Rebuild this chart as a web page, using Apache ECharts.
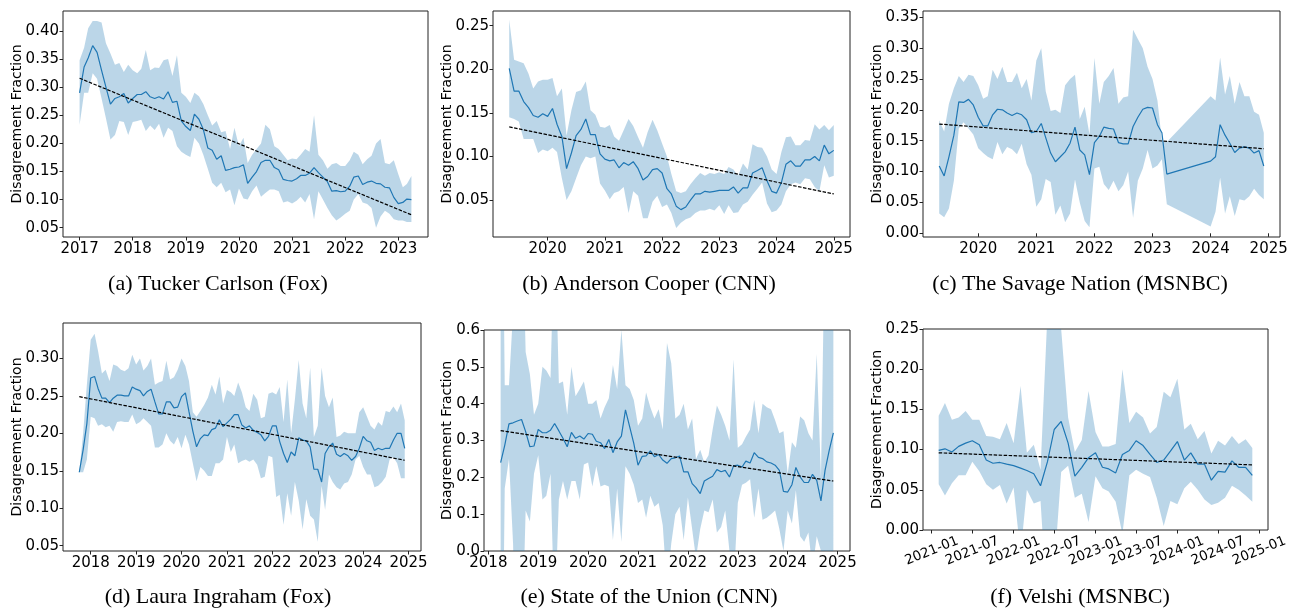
<!DOCTYPE html>
<html>
<head>
<meta charset="utf-8">
<script src="https://cdn.jsdelivr.net/npm/echarts@6/dist/echarts.min.js"></script>
<style>
  html, body { margin: 0; padding: 0; background: #ffffff; }
  #chart { width: 1296px; height: 612px; }
</style>
</head>
<body>
<div id="chart"></div>
<script>
// ---------------------------------------------------------------------------
// Monthly disagreement fraction per show: mean, band bounds, linear trend ends
// ---------------------------------------------------------------------------

// (a) Tucker Carlson (Fox), months Dec 2016 .. Mar 2023
const tuckerStart = '2016-12';
const tuckerMean = [
  0.290,0.336,0.352,0.374,0.362,0.330,0.300,0.270,0.280,0.283,0.289,0.272,
  0.280,0.287,0.287,0.292,0.283,0.280,0.283,0.279,0.292,0.273,0.275,0.240,
  0.230,0.223,0.252,0.243,0.225,0.192,0.188,0.172,0.178,0.152,0.154,0.157,
  0.158,0.162,0.129,0.140,0.150,0.166,0.170,0.170,0.157,0.153,0.136,0.134,
  0.133,0.137,0.143,0.143,0.147,0.157,0.148,0.140,0.132,0.115,0.116,0.114,
  0.115,0.124,0.140,0.142,0.127,0.131,0.133,0.129,0.128,0.122,0.121,0.104,
  0.093,0.095,0.101,0.100];
const tuckerUpper = [
  0.348,0.370,0.405,0.418,0.418,0.415,0.378,0.360,0.340,0.343,0.327,0.340,
  0.330,0.325,0.333,0.366,0.330,0.335,0.334,0.348,0.350,0.320,0.357,0.290,
  0.283,0.272,0.290,0.284,0.270,0.250,0.232,0.240,0.220,0.222,0.190,0.228,
  0.195,0.210,0.165,0.180,0.190,0.200,0.233,0.225,0.195,0.190,0.180,0.170,
  0.173,0.172,0.180,0.190,0.185,0.250,0.180,0.170,0.155,0.163,0.165,0.160,
  0.160,0.170,0.185,0.180,0.163,0.172,0.178,0.200,0.208,0.165,0.163,0.170,
  0.145,0.122,0.128,0.142];
const tuckerLower = [
  0.233,0.290,0.290,0.325,0.315,0.280,0.245,0.207,0.215,0.240,0.238,0.215,
  0.238,0.240,0.242,0.222,0.232,0.224,0.235,0.210,0.228,0.222,0.195,0.185,
  0.180,0.176,0.210,0.200,0.180,0.155,0.130,0.122,0.130,0.113,0.118,0.090,
  0.120,0.102,0.100,0.115,0.125,0.105,0.112,0.118,0.118,0.115,0.095,0.097,
  0.093,0.098,0.105,0.095,0.110,0.065,0.115,0.100,0.085,0.072,0.063,0.068,
  0.075,0.080,0.100,0.110,0.095,0.092,0.085,0.050,0.070,0.080,0.075,0.065,
  0.063,0.063,0.060,0.060];
const tuckerTrend = [0.316, 0.073];

// (b) Anderson Cooper (CNN), months Apr 2019 .. Dec 2024
const andersonStart = '2019-04';
const andersonMean = [
  0.201,0.175,0.175,0.163,0.156,0.147,0.145,0.149,0.146,0.155,0.137,0.123,
  0.086,0.104,0.124,0.131,0.143,0.125,0.125,0.103,0.097,0.095,0.096,0.087,
  0.093,0.090,0.094,0.086,0.073,0.077,0.085,0.086,0.081,0.063,0.057,0.043,
  0.039,0.042,0.050,0.057,0.057,0.060,0.059,0.060,0.061,0.061,0.061,0.065,
  0.058,0.064,0.064,0.081,0.084,0.087,0.072,0.060,0.058,0.070,0.091,0.095,
  0.089,0.089,0.096,0.096,0.100,0.095,0.113,0.103,0.107];
const andersonUpper = [
  0.257,0.211,0.209,0.207,0.195,0.178,0.186,0.188,0.188,0.190,0.169,0.178,
  0.124,0.153,0.174,0.176,0.186,0.153,0.148,0.134,0.133,0.136,0.123,0.118,
  0.130,0.143,0.135,0.122,0.110,0.128,0.142,0.130,0.115,0.100,0.080,0.060,
  0.058,0.060,0.068,0.075,0.081,0.078,0.081,0.080,0.082,0.080,0.088,0.085,
  0.078,0.092,0.085,0.114,0.111,0.110,0.100,0.085,0.080,0.105,0.122,0.123,
  0.113,0.113,0.119,0.118,0.137,0.131,0.136,0.130,0.136];
const andersonLower = [
  0.145,0.143,0.140,0.120,0.120,0.120,0.104,0.108,0.106,0.110,0.105,0.075,
  0.050,0.060,0.075,0.090,0.100,0.098,0.100,0.069,0.061,0.051,0.058,0.060,
  0.065,0.035,0.060,0.055,0.029,0.029,0.048,0.055,0.042,0.045,0.035,0.018,
  0.024,0.028,0.030,0.035,0.038,0.038,0.040,0.038,0.044,0.034,0.044,0.035,
  0.036,0.045,0.048,0.056,0.063,0.070,0.046,0.036,0.038,0.045,0.060,0.068,
  0.070,0.068,0.075,0.074,0.065,0.060,0.090,0.076,0.078];
const andersonTrend = [0.134, 0.057];

// (c) The Savage Nation (MSNBC), Apr 2019 .. Mar 2023, then Dec 2023 .. Nov 2024
const savageStart = '2019-04';
const savageResume = '2023-12';
const savageMeanA = [
  0.109,0.093,0.124,0.159,0.213,0.212,0.217,0.208,0.188,0.174,0.174,0.192,
  0.201,0.200,0.195,0.191,0.195,0.192,0.184,0.163,0.165,0.178,0.155,0.130,
  0.116,0.124,0.132,0.146,0.172,0.135,0.127,0.095,0.147,0.157,0.172,0.170,
  0.169,0.147,0.145,0.145,0.173,0.188,0.201,0.204,0.203,0.176,0.163,0.096];
const savageMeanB = [0.117,0.124,0.176,0.159,0.146,0.131,0.138,0.140,0.138,0.130,0.134,0.109];
const savageUpperA = [
  0.183,0.165,0.210,0.235,0.255,0.245,0.257,0.255,0.240,0.218,0.222,0.265,
  0.250,0.270,0.245,0.245,0.260,0.235,0.250,0.215,0.280,0.300,0.230,0.198,
  0.200,0.195,0.240,0.250,0.257,0.185,0.205,0.160,0.284,0.210,0.245,0.255,
  0.268,0.210,0.220,0.222,0.330,0.315,0.300,0.270,0.250,0.215,0.150,0.148];
const savageUpperB = [0.222,0.215,0.285,0.225,0.255,0.210,0.245,0.222,0.222,0.197,0.192,0.163];
const savageLowerA = [
  0.032,0.026,0.040,0.085,0.170,0.180,0.170,0.160,0.138,0.130,0.124,0.120,
  0.148,0.128,0.140,0.136,0.128,0.145,0.112,0.095,0.043,0.055,0.088,0.083,
  0.030,0.045,0.018,0.032,0.087,0.050,0.020,0.010,0.105,0.108,0.080,0.070,
  0.085,0.068,0.078,0.100,0.025,0.085,0.105,0.135,0.105,0.110,0.120,0.047];
const savageLowerB = [0.011,0.035,0.090,0.032,0.060,0.028,0.055,0.053,0.060,0.072,0.062,0.055];
const savageTrend = [0.177, 0.137];

// (d) Laura Ingraham (Fox), months Sep 2017 .. Nov 2024
const ingrahamStart = '2017-09';
const ingrahamMean = [
  0.148,0.178,0.213,0.274,0.276,0.260,0.247,0.247,0.241,0.247,0.251,0.251,
  0.250,0.250,0.262,0.259,0.257,0.250,0.256,0.259,0.242,0.226,0.226,0.242,
  0.242,0.234,0.235,0.249,0.254,0.229,0.203,0.182,0.193,0.198,0.197,0.205,
  0.207,0.218,0.209,0.214,0.219,0.225,0.225,0.211,0.207,0.210,0.204,0.201,
  0.198,0.190,0.196,0.210,0.210,0.189,0.173,0.161,0.175,0.170,0.194,0.191,
  0.190,0.182,0.152,0.152,0.135,0.173,0.182,0.187,0.172,0.169,0.173,0.170,
  0.164,0.169,0.180,0.196,0.190,0.188,0.177,0.180,0.178,0.180,0.180,0.191,
  0.200,0.200,0.180];
const ingrahamUpper = [
  0.148,0.200,0.265,0.325,0.333,0.310,0.280,0.285,0.270,0.292,0.290,0.285,
  0.283,0.287,0.305,0.292,0.300,0.284,0.290,0.300,0.265,0.268,0.270,0.297,
  0.272,0.275,0.285,0.300,0.290,0.270,0.228,0.222,0.230,0.238,0.248,0.265,
  0.252,0.276,0.240,0.258,0.255,0.250,0.268,0.255,0.235,0.230,0.253,0.245,
  0.220,0.222,0.253,0.255,0.252,0.262,0.215,0.272,0.200,0.245,0.298,0.240,
  0.220,0.288,0.195,0.210,0.288,0.250,0.235,0.248,0.195,0.197,0.202,0.200,
  0.200,0.200,0.228,0.235,0.222,0.210,0.205,0.215,0.210,0.230,0.228,0.236,
  0.228,0.240,0.217];
const ingrahamLower = [
  0.148,0.148,0.165,0.222,0.220,0.210,0.212,0.208,0.210,0.202,0.215,0.216,
  0.215,0.215,0.225,0.212,0.215,0.220,0.215,0.210,0.181,0.181,0.185,0.200,
  0.190,0.185,0.195,0.180,0.198,0.185,0.160,0.136,0.155,0.150,0.143,0.143,
  0.160,0.160,0.165,0.195,0.175,0.185,0.160,0.163,0.165,0.162,0.165,0.158,
  0.140,0.142,0.170,0.168,0.115,0.118,0.078,0.120,0.090,0.135,0.110,0.072,
  0.112,0.090,0.085,0.055,0.130,0.098,0.145,0.135,0.128,0.125,0.133,0.135,
  0.145,0.165,0.170,0.155,0.145,0.145,0.128,0.130,0.135,0.142,0.165,0.168,
  0.160,0.140,0.140];
const ingrahamTrend = [0.249, 0.164];

// (e) State of the Union (CNN), months Mar 2018 .. Nov 2024
const sotuStart = '2018-03';
const sotuMean = [
  0.240,0.287,0.345,0.348,0.353,0.357,0.324,0.283,0.285,0.330,0.321,0.321,
  0.328,0.346,0.326,0.306,0.283,0.322,0.306,0.312,0.304,0.319,0.317,0.298,
  0.294,0.278,0.303,0.267,0.296,0.312,0.383,0.337,0.292,0.233,0.257,0.258,
  0.272,0.256,0.262,0.247,0.238,0.251,0.253,0.258,0.215,0.215,0.183,0.172,
  0.156,0.190,0.197,0.203,0.221,0.215,0.219,0.201,0.231,0.233,0.228,0.244,
  0.239,0.267,0.254,0.251,0.242,0.239,0.233,0.219,0.162,0.160,0.180,0.227,
  0.201,0.186,0.186,0.208,0.192,0.136,0.219,0.274,0.321];
const sotuUpper = [
  1.50,0.45,0.45,0.65,1.20,1.00,0.54,0.48,0.37,0.40,0.50,0.49,
  0.47,0.90,0.455,0.46,0.37,0.50,0.42,0.44,0.46,0.40,0.40,0.41,
  0.36,0.39,0.415,0.505,0.44,0.60,0.45,0.44,0.41,0.34,0.36,0.43,
  0.39,0.36,0.385,0.33,0.565,0.51,0.36,0.37,0.40,0.33,0.36,0.25,
  0.275,0.24,0.26,0.33,0.395,0.37,0.34,0.30,0.52,0.28,0.29,0.31,
  0.33,0.41,0.32,0.40,0.39,0.385,0.355,0.32,0.325,0.21,0.295,0.28,
  0.365,0.355,0.32,0.30,0.535,0.20,0.90,1.20,1.00];
const sotuLower = [
  -0.80,0.17,0.25,0.02,-0.50,-0.30,0.11,0.08,0.21,0.26,0.14,0.15,
  0.21,-0.20,0.14,0.19,0.14,0.19,0.19,0.14,0.235,0.24,0.175,0.23,
  0.175,0.18,0.175,0.03,0.17,0.025,0.23,0.21,0.18,0.13,0.14,0.09,
  0.15,0.12,0.13,0.07,-0.10,0.02,0.10,0.12,0.03,0.145,0.06,-0.02,
  0.06,0.11,0.105,0.14,0.05,0.065,0.11,0.00,-0.10,0.13,0.18,0.185,
  0.195,0.09,0.17,0.085,0.09,0.10,0.11,0.06,0.00,0.11,0.075,0.165,
  0.04,0.025,0.05,-0.05,0.04,0.00,-0.30,-0.40,-0.20];
const sotuTrend = [0.327, 0.190];

// (f) Velshi (MSNBC), months Jan 2021 .. Nov 2024
const velshiStart = '2021-01';
const velshiMean = [
  0.099,0.101,0.097,0.104,0.108,0.111,0.106,0.087,0.083,0.084,0.082,0.080,
  0.077,0.074,0.070,0.055,0.085,0.125,0.135,0.108,0.067,0.078,0.090,0.096,
  0.078,0.076,0.071,0.094,0.099,0.111,0.105,0.094,0.084,0.087,0.098,0.110,
  0.087,0.096,0.082,0.082,0.062,0.073,0.072,0.086,0.078,0.078,0.068];
const velshiUpper = [
  0.142,0.158,0.137,0.140,0.148,0.137,0.137,0.117,0.116,0.113,0.133,0.108,
  0.179,0.096,0.106,0.075,0.270,0.350,0.250,0.140,0.097,0.112,0.173,0.122,
  0.104,0.104,0.107,0.200,0.133,0.147,0.140,0.120,0.128,0.172,0.165,0.188,
  0.125,0.132,0.113,0.123,0.095,0.111,0.105,0.117,0.107,0.113,0.102];
const velshiLower = [
  0.057,0.043,0.058,0.068,0.068,0.085,0.073,0.057,0.050,0.056,0.033,0.053,
  -0.030,0.050,0.033,0.036,-0.100,-0.050,0.072,0.080,0.040,0.045,0.010,0.067,
  0.052,0.048,0.035,-0.005,0.068,0.075,0.070,0.066,0.040,0.005,0.036,0.032,
  0.052,0.060,0.050,0.038,0.031,0.034,0.040,0.055,0.050,0.043,0.035];
const velshiTrend = [0.096, 0.081];

// Axis tick labels
const yearTicksA = ['2017','2018','2019','2020','2021','2022','2023'];
const yearTicksB = ['2020','2021','2022','2023','2024','2025'];
const yearTicksC = ['2019','2020','2021','2022','2023','2024','2025'];
const yearTicksDE = ['2018','2019','2020','2021','2022','2023','2024','2025'];
const velshiTickLabels = ['2021-01','2021-07','2022-01','2022-07','2023-01',
  '2023-07','2024-01','2024-07','2025-01'];
const yTicksA = [0.05,0.10,0.15,0.20,0.25,0.30,0.35,0.40];
const yTicksB = [0.05,0.10,0.15,0.20,0.25];
const yTicksC = [0.00,0.05,0.10,0.15,0.20,0.25,0.30,0.35];
const yTicksD = [0.05,0.10,0.15,0.20,0.25,0.30];
const yTicksE = [0.0,0.1,0.2,0.3,0.4,0.5,0.6];
const yTicksF = [0.00,0.05,0.10,0.15,0.20,0.25];

// ---------------------------------------------------------------------------
// Date helpers: dates are expressed as fractional years on a value axis
// ---------------------------------------------------------------------------
function yearFrac(y, m0, d) {
  const t0 = Date.UTC(y, 0, 1), t1 = Date.UTC(y + 1, 0, 1);
  return y + (Date.UTC(y, m0, d) - t0) / (t1 - t0);
}
function monthEnd(ym) {             // 'YYYY-MM' -> last day of that month
  const [y, m] = ym.split('-').map(Number);
  return yearFrac(y, m, 1);
}
function monthRange(start, n) {
  let [y, m] = start.split('-').map(Number);
  const out = [];
  for (let i = 0; i < n; i++) {
    out.push(y + '-' + String(m).padStart(2, '0'));
    m++; if (m > 12) { m = 1; y++; }
  }
  return out;
}
function labelToYear(s) {           // 'YYYY' or 'YYYY-MM' -> first day
  const [y, m] = s.split('-').map(Number);
  return yearFrac(y, (m || 1) - 1, 1);
}

const savageMonths = monthRange(savageStart, savageMeanA.length)
  .concat(monthRange(savageResume, savageMeanB.length));

const panels = [
  { caption: '(a) Tucker Carlson (Fox)',
    months: monthRange(tuckerStart, tuckerMean.length),
    mean: tuckerMean, upper: tuckerUpper, lower: tuckerLower, trend: tuckerTrend,
    xTicks: yearTicksA, yTicks: yTicksA, yMin: 0.0335, yMax: 0.4356, dec: 2,
    rect: { left: 63, top: 11, width: 365, height: 226 }, nameGap: 39, cx: 218, cy: 284 },
  { caption: '(b) Anderson Cooper (CNN)',
    months: monthRange(andersonStart, andersonMean.length),
    mean: andersonMean, upper: andersonUpper, lower: andersonLower, trend: andersonTrend,
    xTicks: yearTicksB, yTicks: yTicksB, yMin: 0.0076, yMax: 0.2669, dec: 2,
    rect: { left: 493, top: 11, width: 357, height: 226 }, nameGap: 39, cx: 649, cy: 284 },
  { caption: '(c) The Savage Nation (MSNBC)',
    months: savageMonths,
    mean: savageMeanA.concat(savageMeanB),
    upper: savageUpperA.concat(savageUpperB),
    lower: savageLowerA.concat(savageLowerB), trend: savageTrend,
    xTicks: yearTicksC, yTicks: yTicksC, yMin: -0.006, yMax: 0.3602, dec: 2,
    rect: { left: 923, top: 11, width: 357, height: 226 }, nameGap: 39, cx: 1080, cy: 284 },
  { caption: '(d) Laura Ingraham (Fox)',
    months: monthRange(ingrahamStart, ingrahamMean.length),
    mean: ingrahamMean, upper: ingrahamUpper, lower: ingrahamLower, trend: ingrahamTrend,
    xTicks: yearTicksDE, yTicks: yTicksD, yMin: 0.0428, yMax: 0.3474, dec: 2,
    rect: { left: 63, top: 323, width: 358, height: 228 }, nameGap: 39, cx: 218, cy: 597 },
  { caption: '(e) State of the Union (CNN)',
    months: monthRange(sotuStart, sotuMean.length),
    mean: sotuMean, upper: sotuUpper, lower: sotuLower, trend: sotuTrend,
    xTicks: yearTicksDE, yTicks: yTicksE, yMin: 0, yMax: 0.6, dec: 1,
    rect: { left: 484, top: 330, width: 366, height: 221 }, nameGap: 30, cx: 649, cy: 597 },
  { caption: '(f) Velshi (MSNBC)',
    months: monthRange(velshiStart, velshiMean.length),
    mean: velshiMean, upper: velshiUpper, lower: velshiLower, trend: velshiTrend,
    xTicks: velshiTickLabels, yTicks: yTicksF, yMin: 0, yMax: 0.25, dec: 2,
    rect: { left: 923, top: 329, width: 345, height: 201 }, nameGap: 39, cx: 1080, cy: 597,
    rotated: true }
];

const FONT = 'DejaVu Sans';
const BLUE = '#1f77b4';
const BAND = 'rgba(31,119,180,0.3)';

const grids = [], xAxes = [], yAxes = [], series = [], graphics = [];

panels.forEach((p, k) => {
  const xs = p.months.map(monthEnd);
  const first = xs[0], last = xs[xs.length - 1];
  const pad = (last - first) * 0.05;
  const xTickVals = p.xTicks.map(labelToYear);

  grids.push(Object.assign({ show: true, borderColor: '#222', borderWidth: 1,
    backgroundColor: 'transparent', containLabel: false }, p.rect));

  xAxes.push({
    type: 'value', gridIndex: k, min: first - pad, max: last + pad,
    axisLine: { show: false }, splitLine: { show: false },
    axisTick: { show: true, length: 3.5, lineStyle: { color: '#222', width: 1 },
      customValues: xTickVals },
    axisLabel: p.rotated ? {
      customValues: xTickVals, rotate: 22, align: 'center', verticalAlign: 'middle',
      margin: 21, fontFamily: FONT, fontSize: 13.5, color: '#000',
      showMinLabel: true, showMaxLabel: true,
      formatter: v => p.xTicks[xTickVals.findIndex(t => Math.abs(t - v) < 1e-6)]
    } : {
      customValues: xTickVals, margin: 5, fontFamily: FONT, fontSize: 15, color: '#000',
      showMinLabel: true, showMaxLabel: true,
      formatter: v => String(Math.round(v))
    }
  });

  yAxes.push({
    type: 'value', gridIndex: k, min: p.yMin, max: p.yMax,
    name: 'Disagreement Fraction', nameLocation: 'middle', nameGap: p.nameGap,
    nameMoveOverlap: false,
    nameTextStyle: { fontFamily: FONT, fontSize: 14, color: '#000' },
    axisLine: { show: false }, splitLine: { show: false },
    axisTick: { show: true, length: 3.5, lineStyle: { color: '#222', width: 1 },
      customValues: p.yTicks },
    axisLabel: { customValues: p.yTicks, margin: 4, fontFamily: FONT, fontSize: 15,
      color: '#000', showMinLabel: true, showMaxLabel: true,
      formatter: v => v.toFixed(p.dec) }
  });

  // Shaded band: one polygon through the lower edge and back along the upper edge
  const bandData = xs.map((x, i) => [x, p.lower[i], p.upper[i]]);
  series.push({
    type: 'custom', xAxisIndex: k, yAxisIndex: k, silent: true, z: 1,
    data: bandData,
    encode: { x: 0, y: [1, 2] },
    renderItem: (params, api) => {
      if (params.dataIndex !== 0) return null;
      const pts = [];
      bandData.forEach(d => pts.push(api.coord([d[0], d[1]])));
      for (let i = bandData.length - 1; i >= 0; i--) {
        pts.push(api.coord([bandData[i][0], bandData[i][2]]));
      }
      const cs = params.coordSys;
      return {
        type: 'polygon',
        shape: { points: pts },
        style: { fill: BAND, stroke: null },
        clipPath: { type: 'rect', shape: { x: cs.x, y: cs.y, width: cs.width, height: cs.height } }
      };
    }
  });

  // Monthly mean
  series.push({
    type: 'line', xAxisIndex: k, yAxisIndex: k, silent: true, z: 2,
    data: xs.map((x, i) => [x, p.mean[i]]),
    symbol: 'none', lineStyle: { color: BLUE, width: 1.2 }
  });

  // Linear trend
  series.push({
    type: 'line', xAxisIndex: k, yAxisIndex: k, silent: true, z: 3,
    data: [[first, p.trend[0]], [last, p.trend[1]]],
    symbol: 'none', lineStyle: { color: '#000', width: 1.2, type: [3.5, 1.5] }
  });

  graphics.push({
    type: 'text', x: p.cx, y: p.cy,
    style: { text: p.caption, fill: '#000', font: '22px "Liberation Serif"',
      align: 'center', verticalAlign: 'middle' }
  });
});

const chart = echarts.init(document.getElementById('chart'), null, { renderer: 'canvas' });
chart.setOption({
  animation: false,
  backgroundColor: '#ffffff',
  grid: grids,
  xAxis: xAxes,
  yAxis: yAxes,
  series: series,
  graphic: graphics
});
</script>
</body>
</html>
